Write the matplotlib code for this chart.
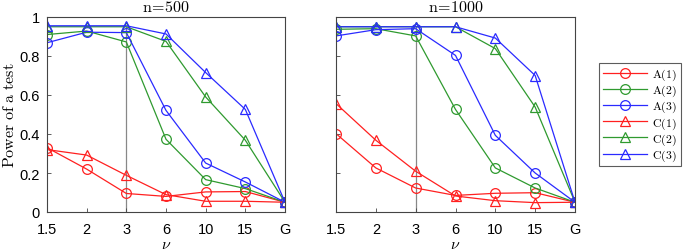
import matplotlib
matplotlib.use("Agg")
import matplotlib.pyplot as plt

plt.rcParams['mathtext.fontset'] = 'cm'
plt.rcParams['font.family'] = ['Liberation Sans', 'DejaVu Sans']

xlabels = ['1.5', '2', '3', '6', '10', '15', 'G']
series_names = ['A(1)', 'A(2)', 'A(3)', 'C(1)', 'C(2)', 'C(3)']

n500_A1 = [0.33, 0.22, 0.095, 0.08, 0.103, 0.105, 0.05]
n500_A2 = [0.91, 0.928, 0.872, 0.373, 0.166, 0.12, 0.05]
n500_A3 = [0.868, 0.922, 0.92, 0.521, 0.251, 0.154, 0.05]
n500_C1 = [0.32, 0.292, 0.188, 0.089, 0.055, 0.055, 0.05]
n500_C2 = [0.95, 0.95, 0.95, 0.875, 0.59, 0.368, 0.05]
n500_C3 = [0.955, 0.955, 0.955, 0.913, 0.715, 0.526, 0.05]

n1000_A1 = [0.402, 0.226, 0.123, 0.085, 0.096, 0.099, 0.05]
n1000_A2 = [0.937, 0.94, 0.903, 0.526, 0.226, 0.123, 0.05]
n1000_A3 = [0.903, 0.935, 0.94, 0.803, 0.393, 0.2, 0.05]
n1000_C1 = [0.556, 0.368, 0.209, 0.082, 0.058, 0.048, 0.05]
n1000_C2 = [0.95, 0.95, 0.95, 0.95, 0.838, 0.538, 0.05]
n1000_C3 = [0.95, 0.95, 0.95, 0.95, 0.892, 0.70, 0.05]

titles = ['n=500', 'n=1000']
panels = [
    [n500_A1, n500_A2, n500_A3, n500_C1, n500_C2, n500_C3],
    [n1000_A1, n1000_A2, n1000_A3, n1000_C1, n1000_C2, n1000_C3],
]
colors = ['#ff2020', '#2f9a2f', '#2a2aff', '#ff2020', '#2f9a2f', '#2a2aff']
markers = ['o', 'o', 'o', '^', '^', '^']
vline_x = 3
vline_top = 0.95

fig = plt.figure(figsize=(6.85, 2.53), dpi=100)
rects = [[47/685, 1-213/253, 238/685, 195/253], [336/685, 1-213/253, 239/685, 195/253]]
x = list(range(1, len(xlabels)+1))
handles = []
for i, (rect, data, title) in enumerate(zip(rects, panels, titles)):
    ax = fig.add_axes(rect)
    ax.plot([vline_x, vline_x], [0, vline_top], color='#888888', lw=0.9, zorder=1)
    for vals, c, m, name in zip(data, colors, markers, series_names):
        h, = ax.plot(x, vals, color=c, marker=m, markersize=7, markerfacecolor='none',
                     markeredgecolor=c, lw=0.9, mew=0.9, label=name, zorder=2)
        if i == 0:
            handles.append(h)
    ax.set_xlim(1, 7)
    ax.set_ylim(0, 1)
    ax.set_xticks(x)
    ax.set_xticklabels(xlabels)
    ax.set_yticks([0, 0.2, 0.4, 0.6, 0.8, 1])
    ax.set_yticklabels(['0', '0.2', '0.4', '0.6', '0.8', '1'])
    ax.tick_params(direction='in', length=3, width=0.6, labelsize=10.5, color='#444444')
    ax.tick_params(axis='x', pad=7)
    ax.tick_params(axis='y', pad=5)
    if i == 1:
        ax.set_yticklabels([])
    for s in ax.spines.values():
        s.set_linewidth(0.8)
        s.set_color('#444444')
    ax.set_title(r'$\mathrm{' + title.replace('=', '\\!=\\!') + '}$', fontsize=11.5, pad=4)
    ax.set_xlabel(r'$\nu$', fontsize=11.5, labelpad=0)
    if i == 0:
        ax.set_ylabel(r'$\mathrm{Power\ of\ a\ test}$', fontsize=11.5, labelpad=2)

leg_labels = [r'$\mathrm{' + n + '}$' for n in series_names]
leg = fig.legend(handles, leg_labels, loc='upper left',
                 bbox_to_anchor=(599/685, 1-64/253),
                 fontsize=8.5, frameon=True, fancybox=False, edgecolor='#333333',
                 handlelength=3.8, borderpad=0.3, labelspacing=0.08, handletextpad=0.4,
                 borderaxespad=0)
leg.get_frame().set_linewidth(0.8)

fig.savefig('out.png', dpi=100)
